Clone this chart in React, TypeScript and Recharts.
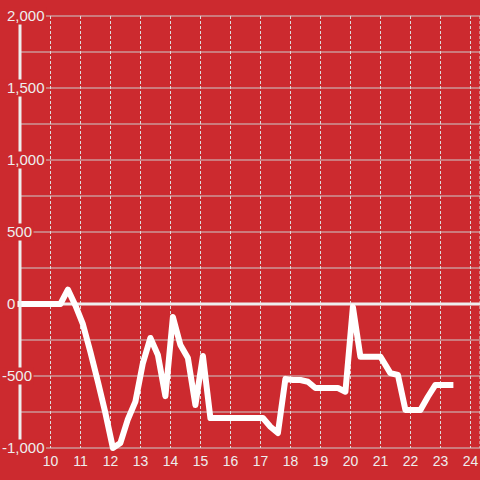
import React from 'react';
import {
  LineChart,
  Line,
  XAxis,
  YAxis,
  CartesianGrid,
  ReferenceLine,
} from 'recharts';

const BG = '#cc2a2f';
const FONT = '"Liberation Sans", Arial, sans-serif';

// hour of day (decimal) and value
const hours = [
  9.0, 10.33, 10.58, 10.83, 11.08, 11.33, 11.58, 11.83, 12.08, 12.33, 12.58, 12.83,
  13.08, 13.33, 13.58, 13.83, 14.08, 14.33, 14.58, 14.83, 15.08, 15.33, 15.58, 15.83,
  16.08, 16.33, 16.58, 16.83, 17.08, 17.33, 17.58, 17.83, 18.08, 18.33, 18.58, 18.83,
  19.08, 19.33, 19.58, 19.83, 20.08, 20.33, 20.58, 20.83, 21.0, 21.33, 21.58, 21.83,
  22.08, 22.33, 22.58, 22.83, 23.08, 23.33,
];
const values = [
  0, 0, 100, -10, -140, -333, -540, -757, -1000, -965, -800, -678,
  -410, -236, -354, -640, -90, -285, -375, -701, -361, -792, -792, -792,
  -792, -792, -792, -792, -792, -852, -896, -520, -528, -528, -540, -583,
  -583, -583, -583, -609, -20, -366, -366, -366, -366, -480, -493, -736,
  -736, -736, -644, -562, -562, -562,
];

const xTicks = [10, 11, 12, 13, 14, 15, 16, 17, 18, 19, 20, 21, 22, 23, 24];
const yTicks = [-1000, -750, -500, -250, 0, 250, 500, 750, 1000, 1250, 1500, 1750, 2000];

const data = hours.map((h, i) => ({ hour: h, value: values[i] }));

const charWidth = (c: string) => (c === ',' ? 4.17 : c === '-' ? 5 : 8.34);

const YTick = (props: any) => {
  const { y, payload } = props;
  const v = payload.value as number;
  if (v % 500 !== 0) return <g />;
  const label = v.toLocaleString('en-US');
  const textX = v < 0 ? 2 : 7;
  const w = label.split('').reduce((s, c) => s + charWidth(c), 0);
  return (
    <g>
      <rect x={0} y={y - 8.5} width={textX + w + 1.5} height={17} fill={BG} />
      <text x={textX} y={y} dy="0.35em" textAnchor="start" fill="#eeeeee" fontSize={15} fontFamily={FONT}>
        {label}
      </text>
    </g>
  );
};

export default function App() {
  return (
    <div style={{ position: 'fixed', left: 0, top: 0, width: 480, height: 480, background: BG }}>
      <LineChart width={480} height={480} data={data} margin={{ top: 16, right: 0, bottom: 0, left: 0 }}>
        <CartesianGrid horizontal={true} vertical={false} stroke="#cccccc" strokeWidth={1} />
        <CartesianGrid horizontal={false} vertical={true} stroke="#dddddd" strokeDasharray="3 2" strokeWidth={1} />
        <XAxis
          dataKey="hour"
          type="number"
          domain={[8.9833, 24.3167]}
          ticks={xTicks}
          interval={0}
          axisLine={false}
          tickLine={false}
          height={32}
          tick={{ fill: '#eeeeee', fontSize: 14, fontFamily: FONT }}
        />
        <YAxis
          type="number"
          domain={[-1000, 2000]}
          ticks={yTicks}
          interval={0}
          width={20}
          axisLine={{ stroke: '#eeeeee', strokeWidth: 3 }}
          tickLine={false}
          tick={<YTick />}
        />
        <ReferenceLine y={0} stroke="#eeeeee" strokeWidth={3} />
        <Line
          type="linear"
          dataKey="value"
          stroke="#ffffff"
          strokeWidth={6}
          strokeLinecap="square"
          strokeLinejoin="round"
          dot={false}
          activeDot={false}
          isAnimationActive={false}
        />
      </LineChart>
    </div>
  );
}
